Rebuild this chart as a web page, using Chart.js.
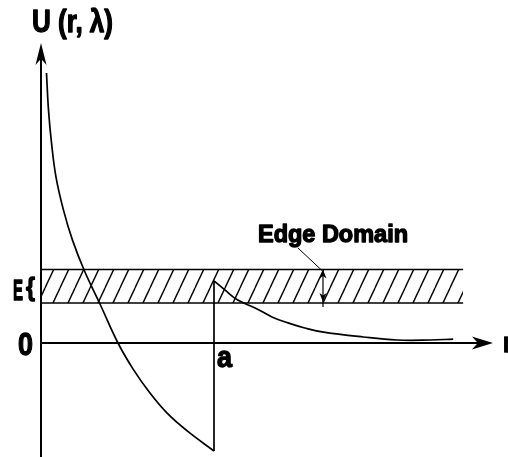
<!DOCTYPE html>
<html>
<head>
<meta charset="utf-8">
<script src="https://cdn.jsdelivr.net/npm/chart.js@4/dist/chart.umd.min.js"></script>
<style>
    body { margin: 0; background: #fff; }
    canvas { display: block; }
</style>
</head>
<body>
<canvas id="potentialChart" width="508" height="457"></canvas>
<script>
// potential U(r, λ): inner branch r < a, wall at r = a, outer tail r > a
const innerR = [0.127, 0.173, 0.243, 0.347, 0.52, 0.728, 1.006, 1.364, 1.78, 2.13, 2.52, 2.91, 3.38, 4.0];
const innerU = [9.0, 7.77, 6.67, 5.53, 4.43, 3.43, 2.4, 1.3, 0, -0.87, -1.67, -2.33, -2.93, -3.6];
const outerR = [4.0, 4.25, 4.55, 4.95, 5.34, 5.71, 6.1, 6.5, 7.45, 8.23, 9.0, 9.53];
const outerU = [2.07, 1.77, 1.43, 1.17, 0.87, 0.67, 0.5, 0.37, 0.2, 0.1, 0.1, 0.13];
const wallR = 4.0;

// energy band E (the edge domain)
const bandR = [0, 9.76];
const bandLow = 1.33;
const bandHigh = 2.45;

// axis extents
const R_MAX = 10.5;
const R_ARROW = 10.45;
const U_MIN = -3.7;
const U_MAX = 10;

const FONT = "'Liberation Sans Narrow', 'Liberation Sans', Arial, sans-serif";

function toPoints(xs, ys) {
    return xs.map((x, i) => ({ x: x, y: ys[i] }));
}

function makeHatch() {
    const w = 15, h = 32;
    const c = document.createElement('canvas');
    c.width = w;
    c.height = h;
    const g = c.getContext('2d');
    g.strokeStyle = '#000';
    g.lineWidth = 1.4;
    for (let k = -1; k <= 1; k++) {
        g.beginPath();
        g.moveTo(k * w, h);
        g.lineTo(k * w + w, 0);
        g.stroke();
    }
    return g.createPattern(c, 'repeat');
}

function arrowHead(ctx, tx, ty, dx, dy, len, half) {
    const px = -dy, py = dx;
    const bx = tx - dx * len, by = ty - dy * len;
    const nx = tx - dx * len * 0.72, ny = ty - dy * len * 0.72;
    ctx.beginPath();
    ctx.moveTo(tx, ty);
    ctx.lineTo(bx + px * half, by + py * half);
    ctx.lineTo(nx, ny);
    ctx.lineTo(bx - px * half, by - py * half);
    ctx.closePath();
    ctx.fill();
}

// heavy bold text squeezed or stretched to a given width
function label(ctx, text, left, baseline, size, width) {
    ctx.save();
    ctx.font = `bold ${size}px ${FONT}`;
    ctx.textAlign = 'left';
    ctx.textBaseline = 'alphabetic';
    const w = ctx.measureText(text).width;
    ctx.translate(left, baseline);
    ctx.scale(width / w, 1);
    ctx.lineJoin = 'round';
    ctx.lineWidth = 1.3;
    ctx.fillText(text, 0, 0);
    ctx.strokeText(text, 0, 0);
    ctx.restore();
}

const decorations = {
    id: 'decorations',
    afterDatasetsDraw(chart) {
        const ctx = chart.ctx;
        const xs = chart.scales.x, ys = chart.scales.y;
        const x0 = xs.getPixelForValue(0);
        const y0 = ys.getPixelForValue(0);
        const yTop = ys.getPixelForValue(U_MAX);
        const xTip = xs.getPixelForValue(R_ARROW);

        ctx.save();
        ctx.strokeStyle = '#000';
        ctx.fillStyle = '#000';
        ctx.lineWidth = 2;

        // U axis
        ctx.beginPath();
        ctx.moveTo(x0, chart.height);
        ctx.lineTo(x0, yTop + 10);
        ctx.stroke();
        arrowHead(ctx, x0, yTop, 0, -1, 22, 5.5);

        // r axis
        ctx.beginPath();
        ctx.moveTo(x0, y0);
        ctx.lineTo(xTip - 10, y0);
        ctx.stroke();
        arrowHead(ctx, xTip, y0, 1, 0, 21, 6.5);

        // width marker across the band
        const xm = xs.getPixelForValue(6.52);
        const yHi = ys.getPixelForValue(bandHigh);
        const yLo = ys.getPixelForValue(bandLow);
        ctx.lineWidth = 1.2;
        ctx.beginPath();
        ctx.moveTo(xm, yHi + 2);
        ctx.lineTo(xm, yLo + 4);
        ctx.stroke();
        arrowHead(ctx, xm, yHi, 0, -1, 9, 3.5);
        arrowHead(ctx, xm, yLo - 1, 0, 1, 9, 3.5);

        // leader from the band caption
        ctx.lineWidth = 1;
        ctx.beginPath();
        ctx.moveTo(xs.getPixelForValue(5.94), ys.getPixelForValue(3.17));
        ctx.lineTo(xm - 1, yHi + 1);
        ctx.stroke();

        // captions
        label(ctx, 'U (r, λ)', 32, 32, 31, 81);
        label(ctx, 'Edge Domain', 258, 242, 23, 150);
        label(ctx, 'E', 13, yLo - 3, 30, 10);
        label(ctx, '{', 26, yLo - 7, 26, 9);
        label(ctx, '0', 18, y0 + 12, 32, 15);
        label(ctx, 'a', xs.getPixelForValue(wallR) + 3, y0 + 24, 30, 15);
        label(ctx, 'r', 503, y0 + 9, 27, 9);
        ctx.restore();
    }
};

const lineStyle = {
    borderColor: '#000',
    pointRadius: 0,
    fill: false,
    clip: false
};

const ctx = document.getElementById('potentialChart').getContext('2d');
new Chart(ctx, {
    type: 'line',
    data: {
        datasets: [
            {
                ...lineStyle,
                data: toPoints(bandR, [bandHigh, bandHigh]),
                borderWidth: 1.5
            },
            {
                ...lineStyle,
                data: toPoints(bandR, [bandLow, bandLow]),
                borderWidth: 1.5,
                fill: '-1',
                backgroundColor: makeHatch()
            },
            {
                ...lineStyle,
                data: toPoints(innerR, innerU),
                borderWidth: 1.7,
                tension: 0.4
            },
            {
                ...lineStyle,
                data: toPoints([wallR, wallR], [innerU[innerU.length - 1], outerU[0]]),
                borderWidth: 1.7
            },
            {
                ...lineStyle,
                data: toPoints(outerR, outerU),
                borderWidth: 1.7,
                tension: 0.4
            }
        ]
    },
    options: {
        responsive: false,
        animation: false,
        devicePixelRatio: 1,
        layout: {
            padding: { left: 41, right: 12.875, top: 43, bottom: 3 }
        },
        plugins: {
            legend: { display: false },
            tooltip: { enabled: false },
            title: { display: false }
        },
        scales: {
            x: { type: 'linear', min: 0, max: R_MAX, display: false },
            y: { type: 'linear', min: U_MIN, max: U_MAX, display: false }
        }
    },
    plugins: [decorations]
});
</script>
</body>
</html>
